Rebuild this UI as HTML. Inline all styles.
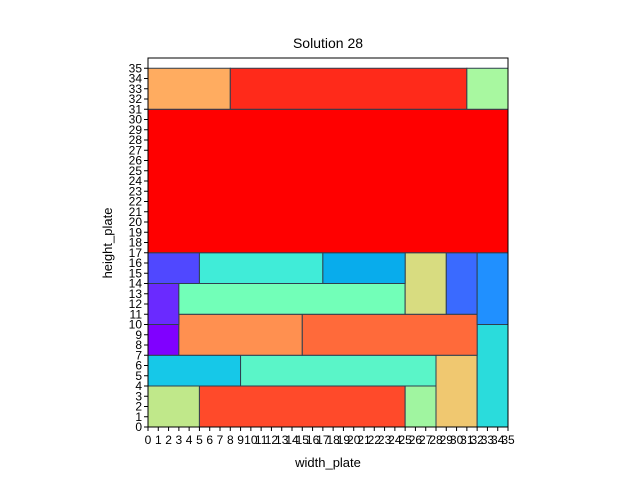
<!DOCTYPE html>
<html><head><meta charset="utf-8"><style>
body{margin:0;background:#fff;}
svg text{font-family:"Liberation Sans","DejaVu Sans",sans-serif;}
</style></head><body>
<svg id="chart" width="640" height="480" xmlns="http://www.w3.org/2000/svg">
<text x="328" y="48" font-size="14" text-anchor="middle">Solution 28</text>
<g id="rects"></g>
<rect x="148" y="58" width="360" height="369" fill="none" stroke="#000" stroke-width="1"/>
<g id="xticks"></g><g id="yticks"></g>
<text x="328" y="467" font-size="13" text-anchor="middle">width_plate</text>
<text x="0" y="0" font-size="13" text-anchor="middle" transform="translate(112,243) rotate(-90)">height_plate</text>
</svg>
<script>
const rectX=[0,5,25,28,32,0,9,0,3,15,0,3,25,29,32,0,5,17,0,0,8,31];
const rectY=[0,0,0,0,0,4,4,7,7,7,10,11,11,11,10,14,14,14,17,31,31,31];
const rectW=[5,20,3,4,3,9,19,3,12,17,3,22,4,3,3,5,12,8,35,8,23,4];
const rectH=[4,4,4,7,10,3,3,3,4,4,4,3,6,6,7,3,3,3,14,4,4,4];
const rectColors=["#c0e88a","#ff4a2a","#a0f5a0","#f0c870","#2adcdc","#16c8e8","#5af5c8","#8000ff","#ff9050","#ff6a3a","#6a2aff","#72ffb8","#d8dc80","#3a6aff","#2090ff","#5048ff","#40ecd8","#08acec","#ff0000","#ffac60","#ff2a1a","#a8f8a0"];
const xTicks=[...Array(36).keys()];
const yTicks=[...Array(36).keys()];
const X0=148,Y0=427,SX=360/35,SY=369/36;
const sx=v=>X0+v*SX, sy=v=>Y0-v*SY;
const NS="http://www.w3.org/2000/svg";
const g=document.getElementById('rects');
rectX.forEach((x,i)=>{
  const r=document.createElementNS(NS,'rect');
  
  
  r.setAttribute('x',sx(x));r.setAttribute('y',sy(rectY[i]+rectH[i]));
  r.setAttribute('width',rectW[i]*SX);r.setAttribute('height',rectH[i]*SY);
  r.setAttribute('fill',rectColors[i]);r.setAttribute('stroke','#2f3f4f');r.setAttribute('stroke-width','1');
  g.appendChild(r);
});
const xg=document.getElementById('xticks');
xTicks.forEach(t=>{
  const l=document.createElementNS(NS,'line');
  
  
  l.setAttribute('x1',sx(t));l.setAttribute('x2',sx(t));l.setAttribute('y1',Y0);l.setAttribute('y2',Y0+4);l.setAttribute('stroke','#000');
  xg.appendChild(l);
  const tx=document.createElementNS(NS,'text');
  
  
  tx.setAttribute('x',sx(t));tx.setAttribute('y',Y0+17);tx.setAttribute('font-size','12');tx.setAttribute('text-anchor','middle');
  tx.textContent=t;xg.appendChild(tx);
});
const yg=document.getElementById('yticks');
yTicks.forEach(t=>{
  const l=document.createElementNS(NS,'line');
  
  
  l.setAttribute('x1',X0-4);l.setAttribute('x2',X0);l.setAttribute('y1',sy(t));l.setAttribute('y2',sy(t));l.setAttribute('stroke','#000');
  yg.appendChild(l);
  const tx=document.createElementNS(NS,'text');
  
  
  tx.setAttribute('x',X0-6);tx.setAttribute('y',sy(t)+4);tx.setAttribute('font-size','12');tx.setAttribute('text-anchor','end');
  tx.textContent=t;yg.appendChild(tx);
});
</script>
</body></html>
